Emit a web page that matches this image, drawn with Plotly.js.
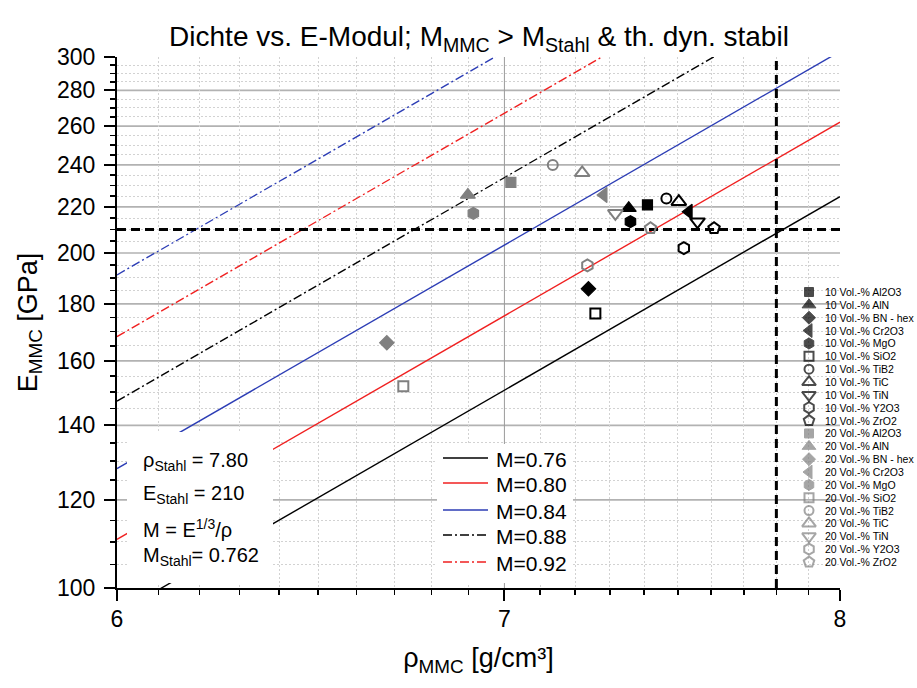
<!DOCTYPE html>
<html><head><meta charset="utf-8">
<script src="https://cdn.plot.ly/plotly-3.0.1.min.js"></script>
<style>html,body{margin:0;padding:0;background:#fff}#chart{width:917px;height:688px}</style>
</head><body><div id="chart"></div>
<script>
// ---------- data ----------
const materials = ['Al2O3','AlN','BN - hex','Cr2O3','MgO','SiO2','TiB2','TiC','TiN','Y2O3','ZrO2'];
const symbols = ['square','triangle-up','diamond','triangle-left','hexagon','square-open','circle-open','triangle-up-open','triangle-down-open','hexagon-open','pentagon-open'];
const rho10 = [7.41, 7.355, 7.238, 7.533, 7.36, 7.258, 7.466, 7.503, 7.559, 7.518, 7.609];
const E10   = [220.9, 219.4, 185.7, 217.8, 213.4, 176.5, 223.9, 222.4, 213.4, 202.0, 210.5];
const rho20 = [7.018, 6.899, 6.680, 7.282, 6.914, 6.724, 7.136, 7.220, 7.316, 7.235, 7.419];
const E20   = [231.5, 225.5, 166.1, 225.5, 217.1, 151.8, 239.9, 236.1, 217.1, 194.9, 210.5];
const volLabels = ['10 Vol.-%', '20 Vol.-%'];
const mSolid = [0.76, 0.80, 0.84];
const mDashDot = [0.88, 0.92, 0.96];
const mLegend = [0.76, 0.80, 0.84, 0.88, 0.92];
const rhoStahl = 7.80, EStahl = 210, MStahl = 0.762;
const rhoRange = [6, 8];
const ERange = [100, 300];
const xTicks = [6, 7, 8];
const xMinor = [6.1,6.2,6.3,6.4,6.5,6.6,6.7,6.8,6.9,7.1,7.2,7.3,7.4,7.5,7.6,7.7,7.8,7.9];
const yTicks = [100,120,140,160,180,200,220,240,260,280,300];

// ---------- styling ----------
const FONT = 'Liberation Sans, Arial, sans-serif';
const L = 117, T = 57, PW = 800, PH = 531;   // plot area in px (main axis uses 723 px)
const XDOM = 723 / PW;
const px2x = p => (p - L) / PW;
const py2y = p => (T + PH - p) / PH;
const sizeOf = s => s.startsWith('square') ? 10 : (s.startsWith('circle') ? 10 : (s.startsWith('diamond') ? 11 : (s.startsWith('triangle') ? 13 : 12)));
const colors10 = '#000000', colors20 = '#808080';
const lineColors = {0.76:'#000000', 0.80:'#f02020', 0.84:'#2c3db5', 0.88:'#000000', 0.92:'#f02020', 0.96:'#2c3db5'};
const DASHDOT = '9px,3px,2px,3px';

const yMinor = [];
for (let v = 105; v < 300; v += 5) if (v % 20 !== 0) yMinor.push(v);

const traces = [];
// iso-M lines: E = (M*rho)^3
function isoLine(M, dash) {
  return {x: rhoRange, y: rhoRange.map(r => Math.pow(M * r, 3)), mode: 'lines', type: 'scatter',
    line: {color: lineColors[M], width: 1.4, dash: dash}, hoverinfo: 'skip', showlegend: false, name: 'M=' + M.toFixed(2)};
}
mSolid.forEach(M => traces.push(isoLine(M, 'solid')));
mDashDot.forEach(M => traces.push(isoLine(M, DASHDOT)));
// steel reference
traces.push({x: rhoRange, y: [EStahl, EStahl], mode: 'lines', line: {color: '#000', width: 3, dash: '9px,5px'}, showlegend: false, hoverinfo: 'skip'});
traces.push({x: [rhoStahl, rhoStahl], y: ERange, mode: 'lines', line: {color: '#000', width: 3, dash: '9px,5px'}, showlegend: false, hoverinfo: 'skip'});
// data points
[[rho10, E10, colors10, 0], [rho20, E20, colors20, 1]].forEach(([rx, ey, col, k]) => {
  materials.forEach((m, i) => {
    const s = symbols[i];
    const open = s.endsWith('-open');
    traces.push({x: [rx[i]], y: [ey[i]], mode: 'markers', type: 'scatter', name: volLabels[k] + ' ' + m, showlegend: false,
      marker: {symbol: s, size: sizeOf(s), color: col, line: {color: col, width: open ? 2 : 1.2}}});
  });
});
// empty helper traces so the label-carrying overlay axes are drawn
traces.push({x: [], y: [], xaxis: 'x3', yaxis: 'y', mode: 'markers', showlegend: false, hoverinfo: 'skip'});
traces.push({x: [], y: [], xaxis: 'x', yaxis: 'y3', mode: 'markers', showlegend: false, hoverinfo: 'skip'});

// marker legend (drawn on a pixel-space helper axis)
const legRow0 = 292, legStep = 12.86, legMarkX = 809, legTextX = 823;
const legX = [], legY = [], legSym = [], legCol = [], legSize = [], legLW = [];
const annotations = [];
volLabels.forEach((v, k) => {
  materials.forEach((m, i) => {
    const row = k * materials.length + i;
    const yy = legRow0 + row * legStep;
    legX.push(legMarkX); legY.push(yy); legSym.push(symbols[i]);
    legCol.push(k === 0 ? colors10 : colors20); legSize.push(sizeOf(symbols[i]) - 1);
    legLW.push(symbols[i].endsWith('-open') ? 2 : 1);
    annotations.push({xref: 'x2', yref: 'y2', x: legTextX, y: yy, xanchor: 'left', yanchor: 'middle', showarrow: false,
      text: v + ' ' + m, font: {family: FONT, size: 10.5, color: '#000'}});
  });
});
traces.push({x: legX, y: legY, xaxis: 'x2', yaxis: 'y2', mode: 'markers', type: 'scatter', showlegend: false, hoverinfo: 'skip',
  marker: {symbol: legSym, color: legCol, size: legSize, line: {color: legCol, width: legLW}}});

const shapes = [];
// major grid lines (interior only, as in the reference)
const logSpanY = Math.log10(ERange[1]) - Math.log10(ERange[0]);
const logSpanX = Math.log10(rhoRange[1]) - Math.log10(rhoRange[0]);
yTicks.slice(1, -1).forEach(v => {
  const f = (Math.log10(v) - Math.log10(ERange[0])) / logSpanY;
  shapes.push({type: 'line', xref: 'paper', yref: 'paper', x0: 0, x1: XDOM, y0: f, y1: f, line: {color: '#b2b2b2', width: 1.6}, layer: 'below'});
});
xTicks.slice(1, -1).forEach(v => {
  const f = (Math.log10(v) - Math.log10(rhoRange[0])) / logSpanX * XDOM;
  shapes.push({type: 'line', xref: 'paper', yref: 'paper', x0: f, x1: f, y0: 0, y1: 1, line: {color: '#9a9a9a', width: 1}, layer: 'below'});
});
// white boxes
shapes.push({type: 'rect', xref: 'paper', yref: 'paper', x0: px2x(127), x1: px2x(273), y0: py2y(583), y1: py2y(432), fillcolor: '#fff', line: {width: 0}, layer: 'above'});
shapes.push({type: 'rect', xref: 'paper', yref: 'paper', x0: px2x(437), x1: px2x(573), y0: py2y(583), y1: py2y(444), fillcolor: '#fff', line: {width: 0}, layer: 'above'});
// M legend
const mLegRows = [458, 483, 510, 535, 562];
mLegend.forEach((M, i) => {
  shapes.push({type: 'line', xref: 'paper', yref: 'paper', x0: px2x(443), x1: px2x(488), y0: py2y(mLegRows[i]), y1: py2y(mLegRows[i]),
    line: {color: lineColors[M], width: 1.4, dash: mSolid.includes(M) ? 'solid' : DASHDOT}, layer: 'above'});
  annotations.push({xref: 'paper', yref: 'paper', x: px2x(494), y: py2y(mLegRows[i] + 1), xanchor: 'left', yanchor: 'middle', showarrow: false,
    text: 'M=' + M.toFixed(2), font: {family: FONT, size: 21, color: '#000'}});
});
// info text box
const infoText = ['ρ<sub>Stahl</sub> = ' + rhoStahl.toFixed(2), 'E<sub>Stahl</sub> = ' + EStahl, 'M = E<sup>1/3</sup>/ρ', 'M<sub>Stahl</sub>= ' + MStahl.toFixed(3)];
const infoRows = [461, 494, 528, 556];
infoText.forEach((t, i) => annotations.push({xref: 'paper', yref: 'paper', x: px2x(141), y: py2y(infoRows[i]), xanchor: 'left', yanchor: 'middle', showarrow: false,
  text: t, font: {family: FONT, size: 20, color: '#000'}}));

const tickFont = {family: FONT, size: 23, color: '#000'};
const axBase = {showline: true, linecolor: '#000', linewidth: 2, ticks: 'outside', tickcolor: '#000', tickwidth: 2, ticklen: 11,
  zeroline: false, showgrid: false, showticklabels: false, automargin: false};
const minorBase = {tickmode: 'array', ticks: 'outside', ticklen: 5, tickwidth: 1.5, tickcolor: '#000', showgrid: true, gridcolor: '#d2d2d2', griddash: '2px,2px', gridwidth: 1};

const layout = {
  width: 917, height: 688, paper_bgcolor: '#fff', plot_bgcolor: 'rgba(0,0,0,0)',
  margin: {l: L, r: 917 - L - PW, t: T, b: 688 - T - PH},
  showlegend: false,
  title: {text: 'Dichte vs. E-Modul; M<sub>MMC</sub> &gt; M<sub>Stahl</sub> &amp; th. dyn. stabil', font: {family: FONT, size: 28, color: '#000'},
    xref: 'paper', x: px2x(479), xanchor: 'center', yref: 'container', y: 1 - 36 / 688, yanchor: 'middle'},
  xaxis: Object.assign({}, axBase, {type: 'log', domain: [0, XDOM], range: rhoRange.map(Math.log10), tickmode: 'array', tickvals: xTicks,
    minor: Object.assign({}, minorBase, {tickvals: xMinor}),
    title: {text: 'ρ<sub>MMC</sub> [g/cm³]', font: {family: FONT, size: 27, color: '#000'}, standoff: 48}}),
  yaxis: Object.assign({}, axBase, {type: 'log', range: ERange.map(Math.log10), tickmode: 'array', tickvals: yTicks,
    minor: Object.assign({}, minorBase, {tickvals: yMinor}),
    title: {text: 'E<sub>MMC</sub> [GPa]', font: {family: FONT, size: 27, color: '#000'}, standoff: 59}}),
  // label-carrying overlay axes (tick labels only)
  xaxis3: {overlaying: 'x', anchor: 'y', side: 'bottom', type: 'log', range: rhoRange.map(Math.log10), tickmode: 'array', tickvals: xTicks, ticktext: xTicks.map(String),
    ticks: 'outside', ticklen: 10, tickcolor: 'rgba(0,0,0,0)', showline: false, showgrid: false, zeroline: false, tickfont: tickFont, automargin: false, fixedrange: true},
  yaxis3: {overlaying: 'y', anchor: 'x', side: 'left', type: 'log', range: ERange.map(Math.log10), tickmode: 'array', tickvals: yTicks, ticktext: yTicks.map(String),
    ticks: 'outside', ticklen: 16, tickcolor: 'rgba(0,0,0,0)', showline: false, showgrid: false, zeroline: false, tickfont: tickFont, automargin: false, fixedrange: true},
  xaxis2: {domain: [px2x(780), 1], range: [780, 917], anchor: 'y2', visible: false, fixedrange: true},
  yaxis2: {domain: [0, 1], range: [T + PH, T], anchor: 'x2', visible: false, fixedrange: true},
  shapes: shapes,
  annotations: annotations
};

Plotly.newPlot('chart', traces, layout, {displayModeBar: false, staticPlot: true});
</script></body></html>
